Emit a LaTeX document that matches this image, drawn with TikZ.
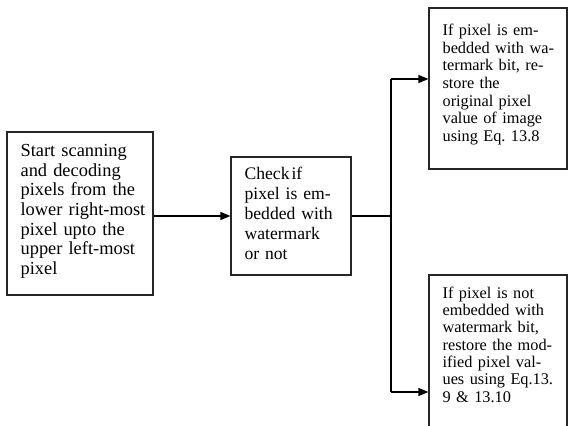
\documentclass[tikz,border=0pt]{standalone}
\usepackage{fontspec}
\setmainfont{Liberation Serif}
\usetikzlibrary{arrows.meta}
\begin{document}
\begin{tikzpicture}[x=1pt,y=1pt,
  box/.style={draw=black!85, line width=1.2pt, rectangle, inner sep=0pt},
  txt/.style={anchor=base west, align=left, text width=150pt, inner sep=0pt},
  line/.style={draw=black, line width=1.3pt},
  arrow/.style={line, -{Triangle[length=10pt,width=8pt]}}]
  \useasboundingbox (0,0) rectangle (569,425);
  \clip (0,0) rectangle (569,425);

  % process boxes
  \node[box, minimum width=146pt, minimum height=163pt] (start) at (80,211.5) {};
  \node[box, minimum width=120pt, minimum height=118pt] (check) at (291,209) {};
  \node[box, minimum width=138pt, minimum height=161pt] (orig) at (498,336.5) {};
  \node[box, minimum width=138pt, minimum height=170pt] (modif) at (498,65) {};

  % box texts
  \node[txt, font=\fontsize{18.4}{19.7}\selectfont] (starttxt) at ([shift={(14,-25)}]start.north west)
    {Start scanning\\and decoding\\pixels from the\\lower right-most\\pixel upto the\\upper left-most\\pixel};
  \node[txt, font=\fontsize{17.6}{20}\selectfont] (checktxt) at ([shift={(14,-23)}]check.north west)
    {Check\hspace{2pt}if\\pixel is em-\\bedded with\\watermark\\or not};
  \node[txt, font=\fontsize{16.3}{17.7}\selectfont] (origtxt) at ([shift={(14,-28)}]orig.north west)
    {If pixel is em-\\bedded with wa-\\termark bit, re-\\store the\\original pixel\\value of image\\using Eq.\ 13.8};
  \node[txt, font=\fontsize{16.3}{17.3}\selectfont] (modiftxt) at ([shift={(14,-24)}]modif.north west)
    {If pixel is not\\embedded with\\watermark bit,\\restore the mod-\\ified pixel val-\\ues using Eq.13.\\9 \& 13.10};

  % connectors
  \coordinate (split) at (391,209);
  \coordinate (topturn) at (391,346);
  \coordinate (botturn) at (391,33);
  \draw[arrow] (check.west -| start.east) -- (check.west);
  \draw[line] (check.east) -- (split);
  \draw[line] (topturn) -- (botturn);
  \draw[arrow] (topturn) -- (topturn -| orig.west);
  \draw[arrow] (botturn) -- (botturn -| modif.west);
\end{tikzpicture}
\end{document}
